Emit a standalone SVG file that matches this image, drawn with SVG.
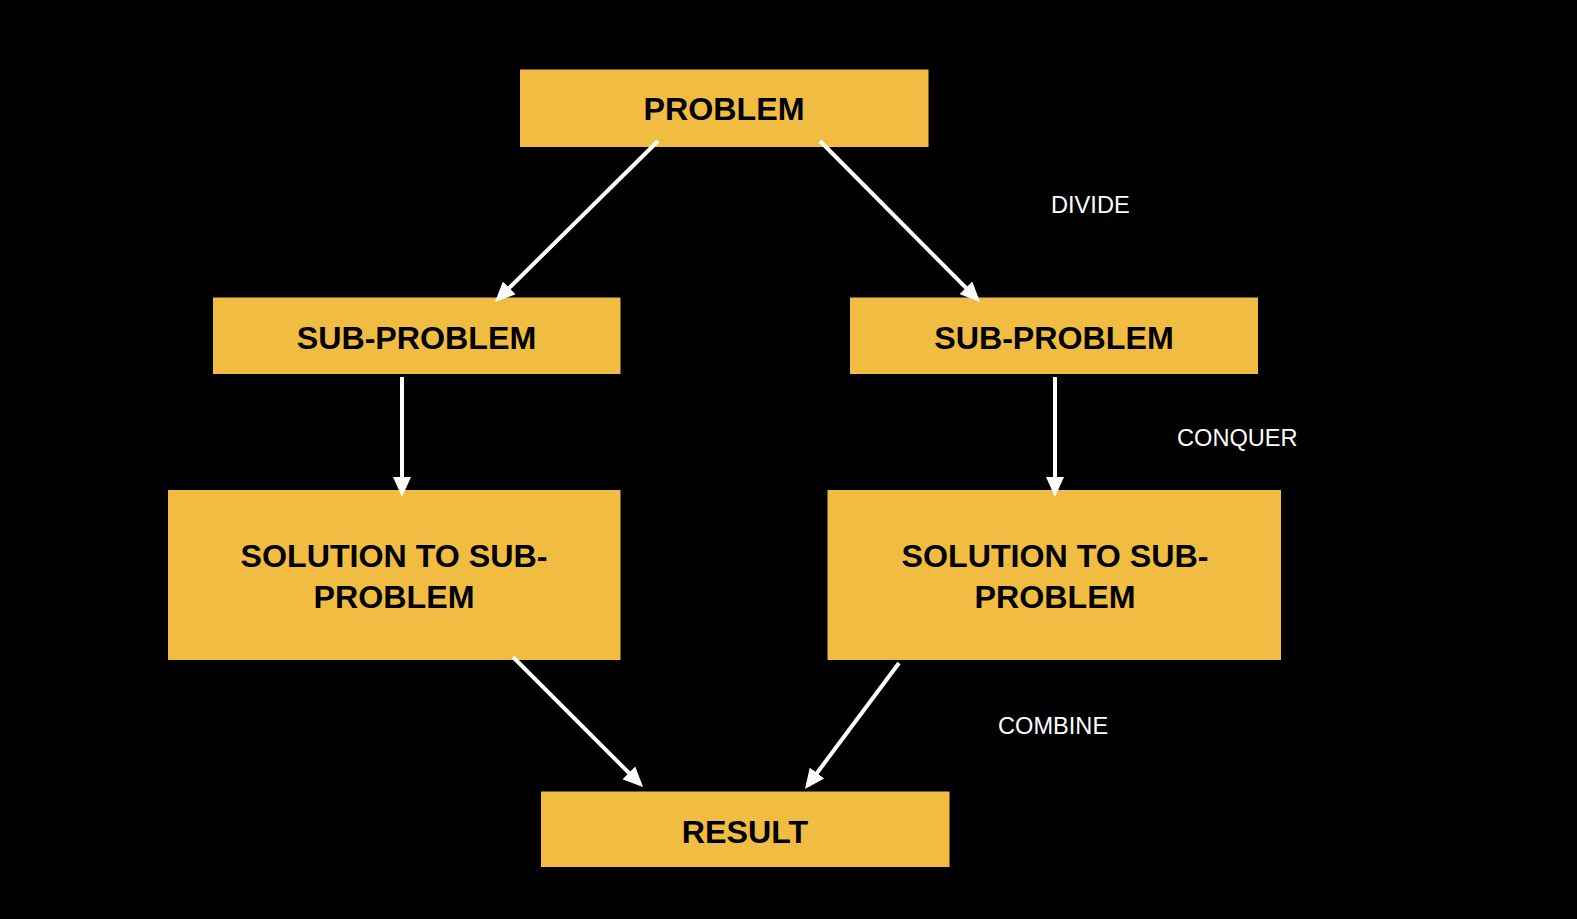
<svg xmlns="http://www.w3.org/2000/svg" width="1577" height="919" viewBox="0 0 1577 919">
<style>
.box{fill:#F0BD42}
.t{font-family:"Liberation Sans",Arial,sans-serif;font-weight:bold;font-size:32.2px;fill:#000;text-anchor:middle}
.l{font-family:"Liberation Sans",Arial,sans-serif;font-size:23.6px;fill:#fff}
.c{stroke:#fff;stroke-width:4;fill:none;marker-end:url(#ah)}
</style>
<defs>
<marker id="ah" markerUnits="userSpaceOnUse" markerWidth="20" markerHeight="18" viewBox="0 0 20 18" refX="16" refY="9" orient="auto">
<path d="M0,0 L20,9 L0,18 Z" fill="#fff"/>
</marker>
</defs>
<rect width="1577" height="919" fill="#000"/>
<g id="problem"><rect class="box" x="520" y="69.5" width="408.5" height="77.5"/><text class="t" x="724" y="120">PROBLEM</text></g>
<g id="sub-left"><rect class="box" x="213" y="297.5" width="407.5" height="76.5"/><text class="t" x="416.5" y="349">SUB-PROBLEM</text></g>
<g id="sub-right"><rect class="box" x="850" y="297.5" width="408" height="76.5"/><text class="t" x="1054" y="349">SUB-PROBLEM</text></g>
<g id="sol-left"><rect class="box" x="168" y="490" width="452.5" height="170"/><text class="t" x="394" y="567">SOLUTION TO SUB-</text><text class="t" x="394" y="607.5">PROBLEM</text></g>
<g id="sol-right"><rect class="box" x="827.5" y="490" width="453.5" height="170"/><text class="t" x="1055" y="567">SOLUTION TO SUB-</text><text class="t" x="1055" y="607.5">PROBLEM</text></g>
<g id="result"><rect class="box" x="541" y="791.5" width="408.5" height="75.5"/><text class="t" x="745" y="843">RESULT</text></g>
<g id="connectors">
<line class="c" x1="658" y1="141" x2="497.8" y2="299.2"/>
<line class="c" x1="820" y1="141" x2="977.2" y2="299.2"/>
<line class="c" x1="402" y1="377" x2="402" y2="493"/>
<line class="c" x1="1055" y1="377" x2="1055" y2="493"/>
<line class="c" x1="513" y1="657" x2="640.2" y2="784.2"/>
<line class="c" x1="899" y1="663" x2="807.4" y2="785.8"/>
</g>
<g id="labels">
<text class="l" x="1051" y="212.5">DIVIDE</text>
<text class="l" x="1177" y="445.5">CONQUER</text>
<text class="l" x="998" y="734">COMBINE</text>
</g>
</svg>
